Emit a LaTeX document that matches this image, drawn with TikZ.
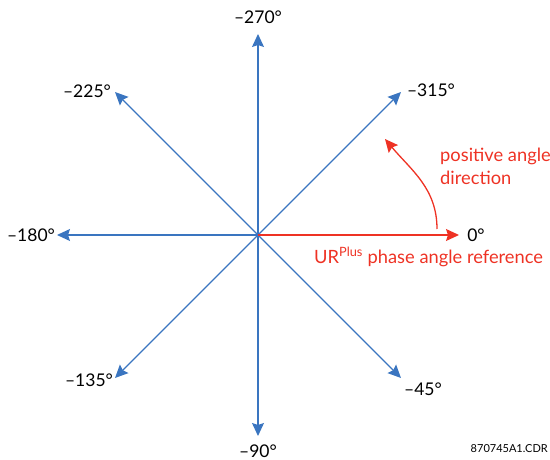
\documentclass[tikz,border=0pt]{standalone}
\usepackage{fontspec}
\setmainfont{Lato}
\usetikzlibrary{arrows.meta}
\definecolor{axblue}{RGB}{58,117,192}
\definecolor{axred}{RGB}{238,50,36}
\tikzset{
  axis/.style={draw=axblue, line width=1.2pt, -{Stealth[length=13pt,width=12pt,inset=2pt]}},
  refaxis/.style={draw=axred, line width=1.3pt, -{Stealth[length=13pt,width=12pt,inset=2pt]}},
  lbl/.style={font=\fontsize{17.5}{20}\selectfont, text=black, inner sep=1pt},
  rlbl/.style={font=\fontsize{18.3}{23}\selectfont, text=axred, inner sep=1pt},
}
\begin{document}
\begin{tikzpicture}[x=1pt,y=-1pt]
\useasboundingbox (0,0) rectangle (550,460);
\coordinate (o) at (258,235);
\coordinate (t270) at (258,34);
\coordinate (t90) at (258,436);
\coordinate (t180) at (57,235);
\coordinate (t0) at (459,235);
\coordinate (t315) at (401,92);
\coordinate (t225) at (115,92);
\coordinate (t135) at (115,378);
\coordinate (t45) at (401,378);
\draw[axis] (o) -- (t270);
\draw[axis] (o) -- (t90);
\draw[axis] (o) -- (t180);
\draw[axis] (o) -- (t315);
\draw[axis] (o) -- (t225);
\draw[axis] (o) -- (t135);
\draw[axis] (o) -- (t45);
\draw[refaxis] (o) -- (t0);
\node[lbl] (l270) at (258,17) {–270°};
\node[lbl] (l90) at (258,451) {–90°};
\node[lbl] (l180) at (31,235) {–180°};
\node[lbl] (l0) at (476,235) {0°};
\node[lbl] (l315) at (431,90) {–315°};
\node[lbl] (l225) at (87,91) {–225°};
\node[lbl] (l135) at (89,380) {–135°};
\node[lbl] (l45) at (423,389) {–45°};
\coordinate (cs) at (437,229);
\coordinate (ce) at (385,139);
\draw[refaxis] (cs) to[out=90, in=-50] (ce);
\node[rlbl, anchor=north west, align=left] (pad) at (439,147) {positive angle\\direction};
\node[rlbl, anchor=west] (ref) at (313,257) {UR\textsuperscript{Plus} phase angle reference};
\node[font=\fontsize{11}{13}\selectfont, anchor=east, inner sep=0pt] (cdr) at (548,449) {870745A1.CDR};
\end{tikzpicture}
\end{document}
